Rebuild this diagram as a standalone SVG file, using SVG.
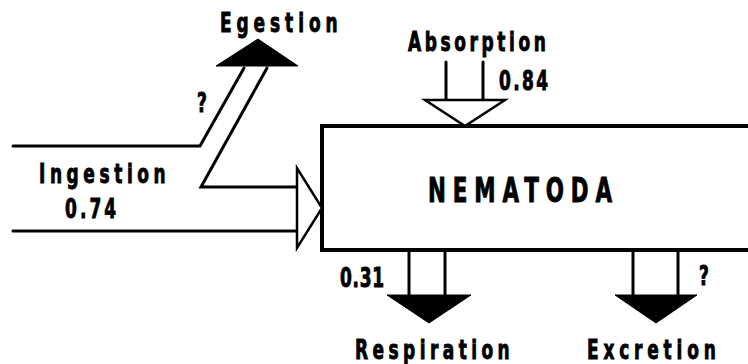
<svg xmlns="http://www.w3.org/2000/svg" width="748" height="364" viewBox="0 0 748 364">
<style>
.ln{fill:none;stroke:#000;stroke-width:3;stroke-linecap:round;stroke-linejoin:miter}
.open{fill:#fff;stroke:#000;stroke-width:2.5;stroke-linejoin:miter}
.solid{fill:#000;stroke:#000;stroke-width:1}
.t{font-family:"DejaVu Sans Condensed","DejaVu Sans",sans-serif;font-weight:bold;font-stretch:condensed;fill:#000;stroke:#000;stroke-width:0.9}
.lab{font-size:27px}
.big{font-size:34px}
</style>
<rect width="748" height="364" fill="#fff"/>
<g id="nematoda">
<path d="M760 126 H322 V250 H760" fill="#fff" stroke="#000" stroke-width="4"/>
<text class="t big" transform="translate(428,202) scale(0.7,1)" textLength="263">NEMATODA</text>
</g>
<g id="connectors">
<g id="ingestion">
<path class="ln" d="M13 146 H200 L244 68"/>
<path class="ln" d="M267 68 L201 187 H297"/>
<path class="ln" d="M13 231 H297"/>
<polygon class="open" points="297,168 297,248 322,208"/>
</g>
<g id="egestion-arrow">
<polygon class="solid" points="216,66 298,66 258,39"/>
</g>
<g id="absorption">
<path class="ln" d="M446 62 V100 M483 62 V100"/>
<polygon class="open" points="425,100 505,100 465,126"/>
</g>
<g id="respiration">
<path class="ln" d="M409 250 V295 M445 250 V295"/>
<polygon class="solid" points="387,295 471,295 429,323"/>
</g>
<g id="excretion">
<path class="ln" d="M633 250 V295 M678 250 V295"/>
<polygon class="solid" points="615,295 697,295 656,323"/>
</g>
</g>
<g id="labels">
<text class="t lab" transform="translate(220,32) scale(0.7,1)" textLength="168">Egestion</text>
<text class="t lab" transform="translate(197,112) scale(0.7,1)">?</text>
<text class="t lab" transform="translate(39,183) scale(0.7,1)" textLength="181">Ingestion</text>
<text class="t lab" transform="translate(65,218) scale(0.7,1)" textLength="73">0.74</text>
<text class="t lab" transform="translate(408,51) scale(0.7,1)" textLength="197">Absorption</text>
<text class="t lab" transform="translate(499,90) scale(0.7,1)" textLength="70">0.84</text>
<text class="t lab" transform="translate(340,287) scale(0.7,1)" textLength="63">0.31</text>
<text class="t lab" transform="translate(699,285) scale(0.7,1)">?</text>
<text class="t lab" transform="translate(355,359) scale(0.7,1)" textLength="221">Respiration</text>
<text class="t lab" transform="translate(587,359) scale(0.7,1)" textLength="184">Excretion</text>
</g>
</svg>
